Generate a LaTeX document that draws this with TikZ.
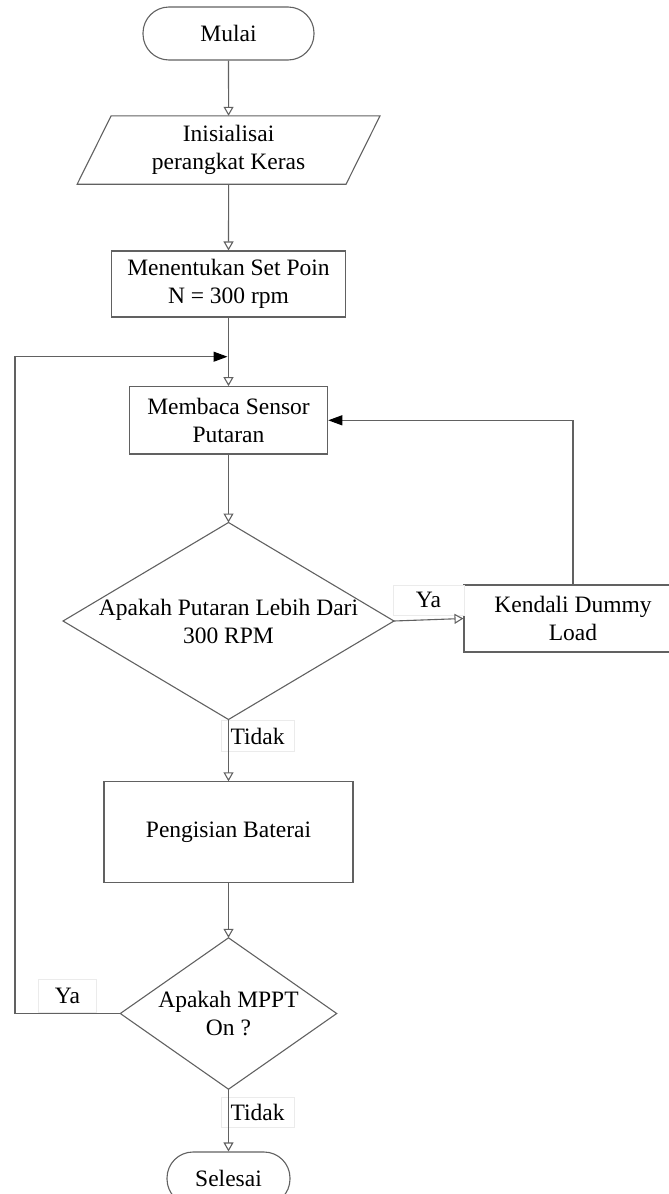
\documentclass[tikz,border=0pt]{standalone}
\usepackage{fontspec}
\setmainfont{Liberation Serif}
\usetikzlibrary{arrows.meta,calc}
\begin{document}
\begin{tikzpicture}[x=1pt,y=-1pt,
  every node/.style={font=\fontsize{23.5}{28}\selectfont, align=center, inner sep=0pt},
  ln/.style={draw=black!62, line width=1.1pt},
  box/.style={ln, rectangle, fill=white},
  oarrow/.style={ln, -{Triangle[open,length=9pt,width=10pt,fill=white]}},
  farrow/.style={ln, -{Triangle[length=14pt,width=10pt,fill=black,color=black]}},
  lbl/.style={fill=white, draw=black!8, line width=0.8pt}
]
\path[use as bounding box] (0,0) rectangle (669,1194);
\clip (0,0) rectangle (669,1194);

% shapes
\node[box, minimum width=171, minimum height=53, rounded corners=26] (mulai) at (228.5,33.5) {Mulai};
\node[minimum width=268.5, minimum height=68] (init) at (228.6,150) {Inisialisai\\perangkat Keras};
\draw[ln] ([xshift=-17pt]init.south west) -- ([xshift=17pt]init.north west) -- ([xshift=17pt]init.north east) -- ([xshift=-17pt]init.south east) -- cycle;
\node[box, minimum width=233.5, minimum height=66] (setp) at (228.5,284) {Menentukan Set Poin\\N = 300 rpm};
\node[box, minimum width=198.4, minimum height=67.3] (baca) at (228.5,420.3) {Membaca Sensor\\Putaran};
\node[minimum width=330.5, minimum height=196.6] (d1) at (228.5,621) {Apakah Putaran Lebih Dari\\300 RPM};
\draw[ln] (d1.north) -- (d1.east) -- (d1.south) -- (d1.west) -- cycle;
\node[box, minimum width=218, minimum height=67] (kd) at (573,618.5) {Kendali Dummy\\Load};
\node[box, minimum width=249, minimum height=100.3] (peng) at (228.5,832) {Pengisian Baterai};
\node[minimum width=216, minimum height=151] (d2) at (228.5,1013.5) {Apakah MPPT\\On ?};
\draw[ln] (d2.north) -- (d2.east) -- (d2.south) -- (d2.west) -- cycle;
\node[box, minimum width=123, minimum height=53, rounded corners=26] (sel) at (228.5,1178.5) {Selesai};

% labels
\node[lbl, minimum width=71, minimum height=30] (ya1) at (428.5,600) {Ya};
\node[lbl, minimum width=73, minimum height=31] (td1) at (257.5,736) {Tidak};
\node[lbl, minimum width=58, minimum height=33] (ya2) at (67.5,995.5) {Ya};
\node[lbl, minimum width=73, minimum height=30] (td2) at (257.5,1112) {Tidak};

% connectors
\coordinate (j) at (227.5,356.7);
\coordinate (L) at (15,356.7);
\draw[oarrow] (mulai) -- (init);
\draw[oarrow] (init) -- (setp);
\draw[oarrow] (setp) -- (baca);
\draw[oarrow] (baca) -- (d1.north);
\draw[oarrow] (d1.east) -- (kd.west);
\draw[farrow] (kd.north) |- (baca.east);
\draw[oarrow] (d1.south) -- (peng.north);
\draw[oarrow] (peng) -- (d2.north);
\draw[oarrow] (d2.south) -- (sel.north);
\draw[farrow] (d2.west) -| (L) -- (j);
\end{tikzpicture}
\end{document}
